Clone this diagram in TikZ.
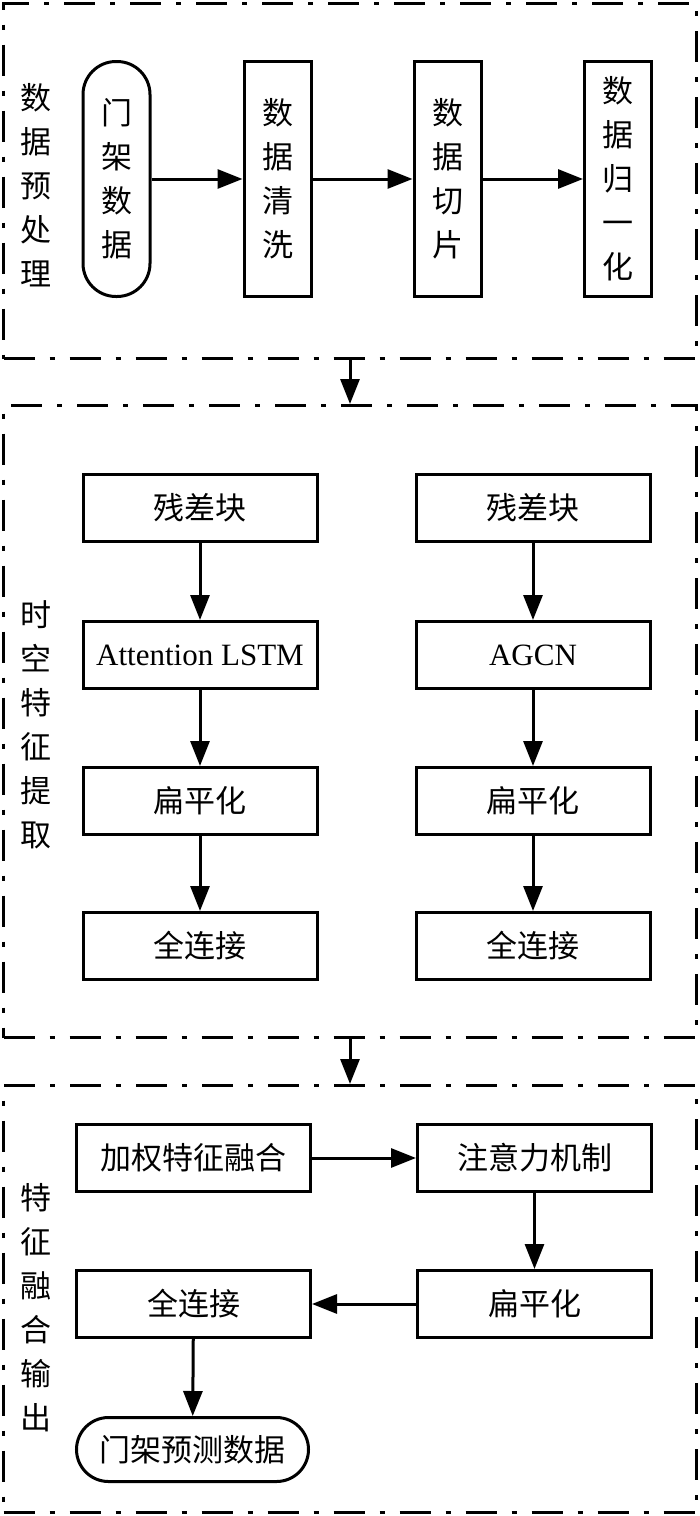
\documentclass[tikz,border=0pt]{standalone}
\usepackage{fontspec}
\setmainfont{Liberation Serif}
\newfontfamily\cjk{Noto Sans CJK SC}
\usetikzlibrary{arrows.meta}
\begin{document}
\begin{tikzpicture}[x=1pt,y=-1pt,
  frame/.style={draw, line width=3pt, dash pattern=on 31pt off 15pt on 5pt off 15pt, inner sep=0pt},
  box/.style={draw, line width=3pt, inner sep=0pt, align=center, font=\cjk\fontsize{31}{44}\selectfont},
  vbox/.style={box, minimum width=67pt, minimum height=235pt},
  hbox/.style={box, minimum width=234pt, minimum height=67pt},
  latin/.style={font=\rmfamily\fontsize{31}{40}\selectfont},
  lab/.style={inner sep=0pt, align=center, font=\cjk\fontsize{31}{44}\selectfont},
  arr/.style={line width=3pt, -{Triangle[length=25pt,width=19pt]}}]
\useasboundingbox (0,0) rectangle (700,1516);

% frames
\node[frame, minimum width=693pt, minimum height=355pt] (f1) at (350,181) {};
\node[frame, minimum width=693pt, minimum height=632pt] (f2) at (350,721.5) {};
\node[frame, minimum width=693pt, minimum height=427pt] (f3) at (350,1299) {};

% frame 1
\node[lab] (L1) at (36,185) {数\\据\\预\\处\\理};
\node[vbox, rounded corners=33pt] (s1) at (116.5,179) {门\\架\\数\\据};
\node[vbox] (b1) at (277.5,179) {数\\据\\清\\洗};
\node[vbox] (b2) at (447.5,179) {数\\据\\切\\片};
\node[vbox] (b3) at (618,179) {数\\据\\归\\一\\化};
\draw[arr] (s1) -- (b1);
\draw[arr] (b1) -- (b2);
\draw[arr] (b2) -- (b3);

% frame 2
\node[lab] (L2) at (36,725) {时\\空\\特\\征\\提\\取};
\node[hbox] (l1) at (200,508) {残差块};
\node[hbox, latin] (l2) at (200,655) {Attention LSTM};
\node[hbox] (l3) at (200,801) {扁平化};
\node[hbox] (l4) at (200,946) {全连接};
\node[hbox] (r1) at (533,508) {残差块};
\node[hbox, latin] (r2) at (533,655) {AGCN};
\node[hbox] (r3) at (533,801) {扁平化};
\node[hbox] (r4) at (533,946) {全连接};
\draw[arr] (l1) -- (l2);
\draw[arr] (l2) -- (l3);
\draw[arr] (l3) -- (l4);
\draw[arr] (r1) -- (r2);
\draw[arr] (r2) -- (r3);
\draw[arr] (r3) -- (r4);

% frame 3
\node[lab] (L3) at (36,1308) {特\\征\\融\\合\\输\\出};
\node[hbox] (c1) at (193.5,1158) {加权特征融合};
\node[hbox] (c2) at (534.5,1158) {注意力机制};
\node[hbox] (c4) at (534.5,1304) {扁平化};
\node[hbox] (c3) at (193.5,1304) {全连接};
\node[hbox, minimum width=232pt, minimum height=64pt, rounded corners=32pt] (c5) at (192.5,1449.5) {门架预测数据};
\draw[arr] (c1) -- (c2);
\draw[arr] (c2) -- (c4);
\draw[arr] (c4) -- (c3);
\draw[arr] (c3) -- (c5);

% between frames
\draw[arr] (f1.south) -- (f2.north);
\draw[arr] (f2.south) -- (f3.north);
\end{tikzpicture}
\end{document}
